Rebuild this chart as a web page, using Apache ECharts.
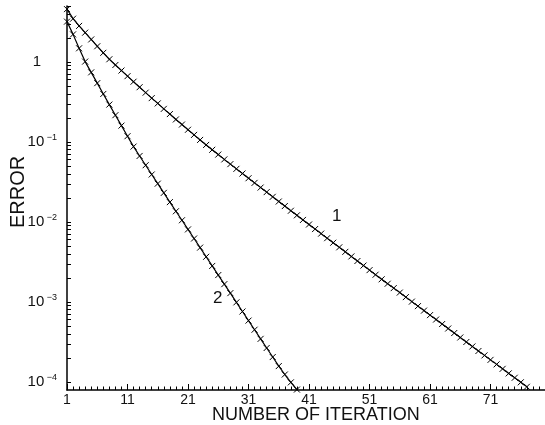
<!DOCTYPE html>
<html>
<head>
<meta charset="utf-8">
<script src="https://cdn.jsdelivr.net/npm/echarts@6/dist/echarts.min.js"></script>
<style>
html,body{margin:0;padding:0;background:#fff;}
#chart{width:545px;height:425px;}
</style>
</head>
<body>
<div id="chart"></div>
<script>
// Curve 1: error at each iteration 1..77
const error1 = [4.57, 3.47, 2.82, 2.32, 1.91, 1.57, 1.30, 1.08, 0.916, 0.780,
  0.664, 0.566, 0.483, 0.413, 0.353, 0.303, 0.259, 0.223, 0.191, 0.165,
  0.142, 0.1225, 0.106, 0.0918, 0.0798, 0.0695, 0.0605, 0.0528, 0.0461, 0.0403,
  0.0352, 0.0308, 0.0269, 0.0236, 0.0206, 0.0180, 0.0158, 0.0138, 0.0121, 0.0106,
  0.00929, 0.00815, 0.00715, 0.00627, 0.00550, 0.00482, 0.00423, 0.00371, 0.00325, 0.00285,
  0.00250, 0.00219, 0.00192, 0.00169, 0.00149, 0.00131, 0.00115, 0.00101, 8.87e-4, 7.80e-4,
  6.85e-4, 6.03e-4, 5.30e-4, 4.66e-4, 4.09e-4, 3.60e-4, 3.16e-4, 2.78e-4, 2.44e-4, 2.15e-4,
  1.89e-4, 1.66e-4, 1.46e-4, 1.28e-4, 1.13e-4, 9.91e-5, 8.71e-5];
// Curve 2: error at each iteration 1..39
const error2 = [3.19, 2.21, 1.48, 1.01, 0.741, 0.543, 0.398, 0.293, 0.216, 0.160,
  0.118, 0.0875, 0.0668, 0.0512, 0.0392, 0.0301, 0.0231, 0.0177, 0.0136, 0.0105,
  0.00807, 0.00621, 0.00478, 0.00367, 0.00282, 0.00217, 0.00167, 0.00129, 9.89e-4, 7.60e-4,
  5.85e-4, 4.50e-4, 3.46e-4, 2.66e-4, 2.05e-4, 1.58e-4, 1.24e-4, 9.89e-5, 8.04e-5];
const firstIteration = 1;
const xTickLabels = [1, 11, 21, 31, 41, 51, 61, 71];
const yTickLabels = [1e-4, 1e-3, 1e-2, 1e-1, 1];
const curveNames = ['1', '2'];
const xTitle = 'NUMBER OF ITERATION';
const yTitle = 'ERROR';

const xMinorTicks = [];
for (let i = 1; i <= 80; i++) xMinorTicks.push(i);
const yMinorTicks = [];
for (let d = -4; d <= 0; d++) for (let m = 1; m <= 9; m++) {
  const v = parseFloat((m * Math.pow(10, d)).toPrecision(6));
  if (v <= 5) yMinorTicks.push(v);
}

function pairs(arr) { return arr.map((v, i) => [firstIteration + i, v]); }

const FONT = '"Liberation Sans", Arial, sans-serif';
const chart = echarts.init(document.getElementById('chart'), null, {renderer: 'canvas'});
const xMark = 'path://M0 0L10 10M10 0L0 10';

chart.setOption({
  animation: false,
  backgroundColor: '#fff',
  grid: {left: 67, right: 0, top: 6, bottom: 35, containLabel: false},
  xAxis: [{
    type: 'value', min: 1, max: 80, position: 'bottom',
    axisLine: {show: true, onZero: false, lineStyle: {color: '#000', width: 1.5}},
    axisTick: {show: true, inside: true, length: 6, customValues: xTickLabels, lineStyle: {color: '#000', width: 1}},
    axisLabel: {show: true, customValues: xTickLabels, margin: 3, color: '#111', fontSize: 14, fontFamily: FONT},
    splitLine: {show: false}
  }, {
    type: 'value', min: 1, max: 80, position: 'bottom', offset: 0,
    axisLine: {show: false},
    axisTick: {show: true, inside: true, length: 3.5, customValues: xMinorTicks, lineStyle: {color: '#000', width: 1}},
    axisLabel: {show: false},
    splitLine: {show: false}
  }],
  yAxis: {
    type: 'log', logBase: 10, min: 7.94e-5, max: 5.0,
    axisLine: {show: true, onZero: false, lineStyle: {color: '#000', width: 1.5}},
    axisTick: {show: true, inside: true, length: 4, customValues: yMinorTicks, lineStyle: {color: '#000', width: 1}},
    axisLabel: {
      show: true, customValues: yTickLabels, margin: 10, color: '#111', fontSize: 14, fontFamily: FONT,
      formatter: function (val) {
        const e = Math.round(Math.log10(val));
        if (e === 0) return '{one|1}';
        return '{base|10}{sup| \u2212' + (-e) + '}';
      },
      rich: {
        base: {fontSize: 15, fontFamily: FONT, color: '#111'},
        one: {fontSize: 15, fontFamily: FONT, color: '#111', padding: [0, 16, 0, 0]},
        sup: {fontSize: 9, fontFamily: FONT, color: '#111', padding: [0, 0, 9, 0]}
      }
    },
    splitLine: {show: false}
  },
  graphic: [
    {type: 'text', left: 212, top: 406, style: {text: xTitle, font: '18px ' + FONT, fill: '#111'}},
    {type: 'text', x: 8, y: 228, rotation: Math.PI / 2, style: {text: yTitle, font: '20px ' + FONT, fill: '#111'}},
    {type: 'text', x: 332, y: 208, style: {text: curveNames[0], font: '17px ' + FONT, fill: '#111'}},
    {type: 'text', x: 213, y: 290, style: {text: curveNames[1], font: '17px ' + FONT, fill: '#111'}}
  ],
  series: [{
    name: curveNames[0], type: 'line', xAxisIndex: 0, data: pairs(error1),
    symbol: xMark, symbolSize: 6, showSymbol: true,
    lineStyle: {color: '#000', width: 1.2},
    itemStyle: {color: '#000', borderColor: '#000', borderWidth: 1}
  }, {
    name: curveNames[1], type: 'line', xAxisIndex: 0, data: pairs(error2),
    symbol: xMark, symbolSize: 6, showSymbol: true,
    lineStyle: {color: '#000', width: 1.2},
    itemStyle: {color: '#000', borderColor: '#000', borderWidth: 1}
  }]
});
</script>
</body>
</html>
